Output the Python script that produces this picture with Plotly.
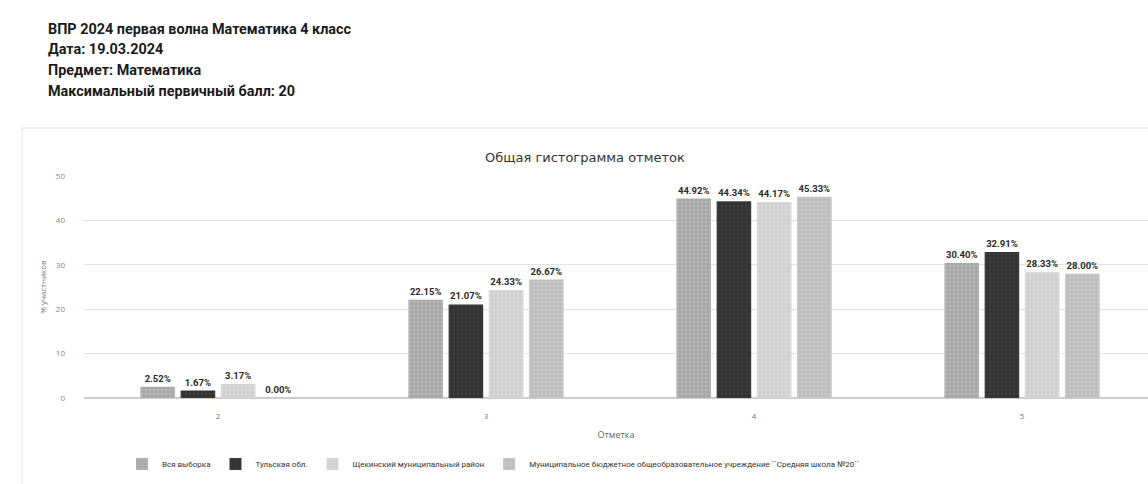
import plotly.graph_objects as go

categories = ["2", "3", "4", "5"]
series_names = [
    "Вся выборка",
    "Тульская обл.",
    "Щекинский муниципальный район",
    "Муниципальное бюджетное общеобразовательное учреждение ``Средняя школа №20``",
]
vals_all = [2.52, 22.15, 44.92, 30.40]
vals_tula = [1.67, 21.07, 44.34, 32.91]
vals_shchek = [3.17, 24.33, 44.17, 28.33]
vals_school = [0.00, 26.67, 45.33, 28.00]
series_values = [vals_all, vals_tula, vals_shchek, vals_school]

header_lines = [
    "ВПР 2024 первая волна Математика 4 класс",
    "Дата: 19.03.2024",
    "Предмет: Математика",
    "Максимальный первичный балл: 20",
]

W, H = 1148, 484
ML, MR, MT, MB = 84, 0, 176, 86
PH = H - MT - MB
PW = W - ML - MR

bar_colors = ["#a3a3a3", "#2f2f2f", "#cdcdcd", "#b9b9b9"]
pat_fg = ["#dcdcdc", "#585858", "#f2f2f2", "#e6e6e6"]

fig = go.Figure()
for name, vals, col, fg in zip(series_names, series_values, bar_colors, pat_fg):
    fig.add_trace(go.Bar(
        name=name, x=categories, y=vals,
        marker=dict(color=col, line=dict(width=0),
                    pattern=dict(shape="+", fgcolor=fg, size=4, solidity=0.35)),
        texttemplate="<b>%{y:.2f}%</b>", textposition="outside", cliponaxis=False,
        textfont=dict(family="Roboto", size=9.5, color="#2a2a2a"),
    ))

def py(ypix):
    return (H - MB - ypix) / PH

def px(xpix):
    return (xpix - ML) / PW

annotations = []
for i, line in enumerate(header_lines):
    annotations.append(dict(
        text="<b>" + line + "</b>", xref="paper", yref="paper",
        x=px(46), y=py(29 + i * 20.7),
        xanchor="left", yanchor="middle", showarrow=False,
        font=dict(family="Roboto", size=14.4, color="#1a1a1a"),
    ))
annotations.append(dict(
    text="Общая гистограмма отметок", xref="paper", yref="paper",
    x=px(585), y=py(157), xanchor="center", yanchor="middle",
    showarrow=False, font=dict(family="DejaVu Sans", size=13, color="#333333"),
))

fig.update_layout(
    width=W, height=H,
    margin=dict(l=ML, r=MR, t=MT, b=MB),
    paper_bgcolor="#ffffff", plot_bgcolor="#ffffff",
    barmode="group", bargap=0.4, bargroupgap=0.14,
    showlegend=True,
    legend=dict(orientation="h", x=px(122), y=py(464),
                xanchor="left", yanchor="middle",
                font=dict(family="Roboto", size=8, color="#333333"),
                itemwidth=30, traceorder="normal"),
    annotations=annotations,
    shapes=[dict(type="rect", xref="paper", yref="paper",
                 x0=px(22), x1=px(1160),
                 y0=py(490), y1=py(128),
                 line=dict(color="#e6e6e6", width=1), fillcolor="rgba(0,0,0,0)", layer="below")],
)
fig.update_xaxes(
    range=[-0.5, 3.47],
    title=dict(text="Отметка", font=dict(family="Open Sans", size=9, color="#666666"), standoff=12),
    tickfont=dict(family="Open Sans", size=8, color="#777777"), ticklabelstandoff=10,
    showline=True, linecolor="#cccccc", linewidth=1, ticks="", showgrid=False,
)
fig.update_yaxes(
    title=dict(text="% участников", font=dict(family="Open Sans", size=8, color="#777777"), standoff=8),
    range=[0, 50], dtick=10, tickfont=dict(family="Open Sans", size=8, color="#888888"),
    gridcolor="#e3e3e3", gridwidth=1, zeroline=True, zerolinecolor="#cccccc",
    ticklabelstandoff=18,
)
fig.write_html("out.html", config={"displayModeBar": False},
               post_script="document.body.style.margin='0';")
